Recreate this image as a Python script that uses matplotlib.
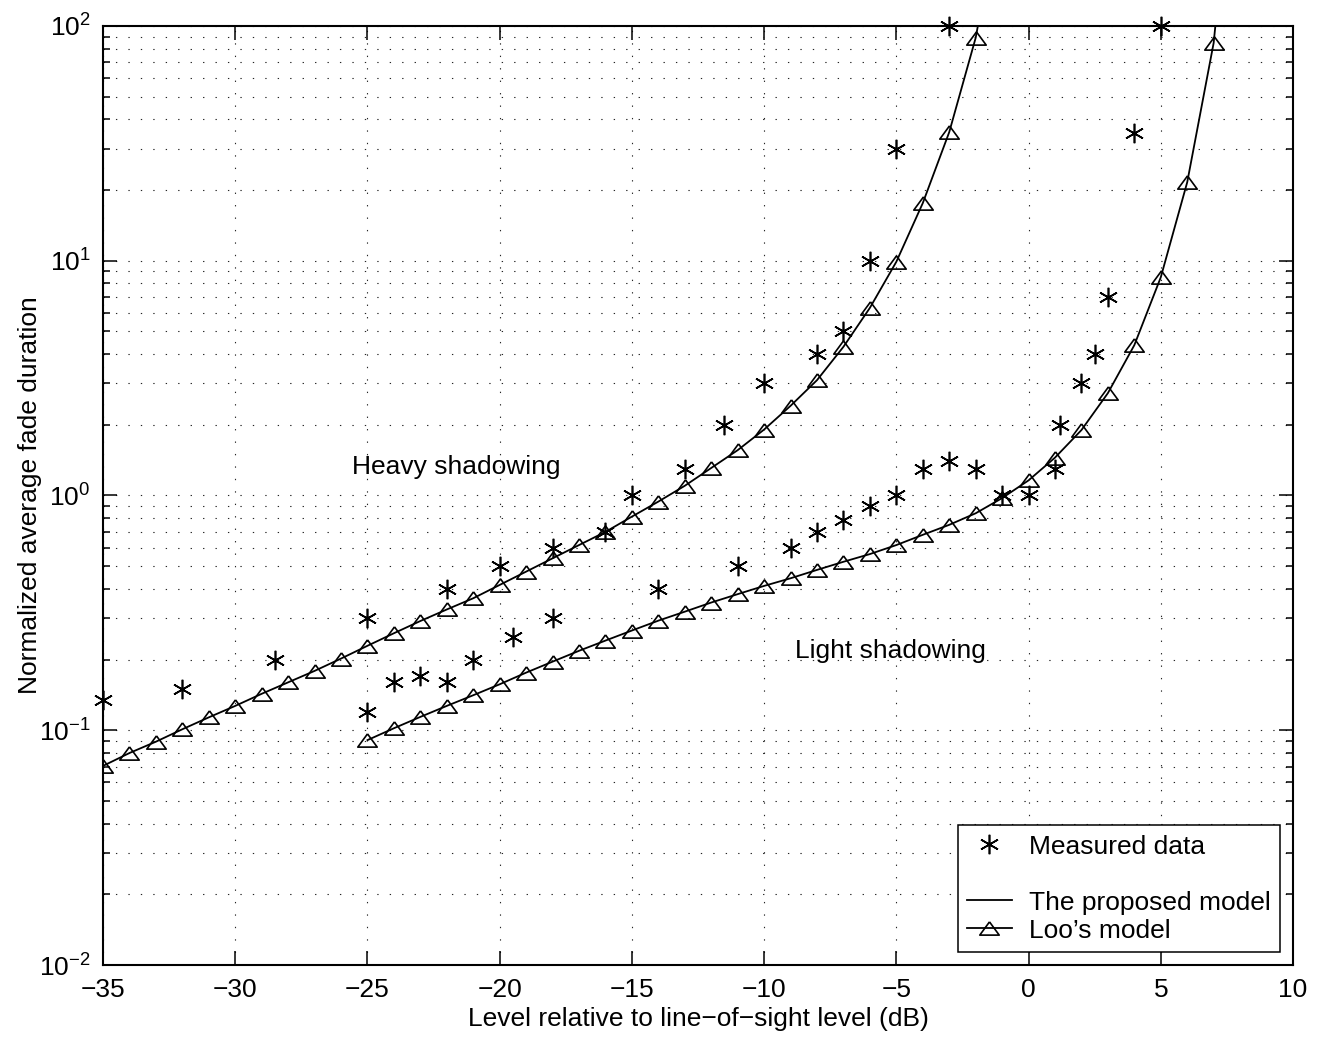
import numpy as np
import matplotlib
matplotlib.use('Agg')
import matplotlib.pyplot as plt
from matplotlib.lines import Line2D

plt.rcParams['font.family'] = ['Liberation Sans', 'DejaVu Sans']
plt.rcParams['font.size'] = 19

# Loo's model (triangles), heavy shadowing
heavy_loo_x = list(range(-35, -1))
heavy_loo_y = [0.0705, 0.080, 0.0894, 0.101, 0.1135, 0.127, 0.143, 0.160, 0.179, 0.202,
               0.229, 0.259, 0.292, 0.327, 0.365, 0.416, 0.474, 0.54, 0.615, 0.70,
               0.813, 0.942, 1.10, 1.31, 1.56, 1.91, 2.41, 3.1, 4.3, 6.3,
               9.9, 17.6, 35.3, 89.0]

# Loo's model (triangles), light shadowing
light_loo_x = list(range(-25, 8))
light_loo_y = [0.0908, 0.102, 0.114, 0.127, 0.141, 0.157, 0.176, 0.196, 0.218, 0.241,
               0.266, 0.293, 0.32, 0.35, 0.38, 0.412, 0.444, 0.482, 0.522, 0.563,
               0.615, 0.68, 0.75, 0.84, 0.975, 1.16, 1.45, 1.9, 2.73, 4.37,
               8.5, 21.6, 84.7]

# proposed model curves (run to the top of the axes)
heavy_prop_x = heavy_loo_x + [-1.85]
heavy_prop_y = heavy_loo_y + [110.0]
light_prop_x = light_loo_x + [7.1]
light_prop_y = light_loo_y + [110.0]

# measured data
heavy_meas_x = [-35, -32, -28.5, -25, -22, -20, -18, -16, -15, -13, -11.5, -10, -8, -7, -6, -5, -3]
heavy_meas_y = [0.135, 0.15, 0.2, 0.3, 0.4, 0.5, 0.6, 0.7, 1.0, 1.3, 2.0, 3.0, 4.0, 5.0, 10, 30, 100]
light_meas_x = [-25, -24, -23, -22, -21, -19.5, -18, -14, -11, -9, -8, -7, -6, -5, -4, -3, -2,
                -1, 0, 1, 1.2, 2, 2.5, 3, 4, 5]
light_meas_y = [0.12, 0.16, 0.17, 0.16, 0.2, 0.25, 0.3, 0.4, 0.5, 0.6, 0.7, 0.79, 0.9, 1.0, 1.3, 1.4, 1.3,
                1.0, 1.0, 1.3, 2.0, 3.0, 4.0, 7.0, 35, 100]

tri = [(0, 0.68), (-1, -0.68), (1, -0.68), (0, 0.68)]
star = (6, 2, 0)

fig = plt.figure(figsize=(13.21, 10.39), dpi=100)
ax = fig.add_axes([0.078, 0.0712, 0.9008, 0.9038])

grid_style = dict(color='0.15', linewidth=0.8, linestyle=(0, (1.2, 10)))

ax.plot(heavy_prop_x, heavy_prop_y, color='k', lw=1.3)
ax.plot(light_prop_x, light_prop_y, color='k', lw=1.3)
ax.plot(heavy_loo_x, heavy_loo_y, linestyle='none', marker=tri, markersize=14,
        markerfacecolor='none', markeredgecolor='k', markeredgewidth=1.2)
ax.plot(light_loo_x, light_loo_y, linestyle='none', marker=tri, markersize=14,
        markerfacecolor='none', markeredgecolor='k', markeredgewidth=1.2)
ax.plot(heavy_meas_x, heavy_meas_y, linestyle='none', marker=star, markersize=14,
        color='k', markeredgewidth=1.2, clip_on=False)
ax.plot(light_meas_x, light_meas_y, linestyle='none', marker=star, markersize=14,
        color='k', markeredgewidth=1.2, clip_on=False)

ax.set_yscale('log')
ax.set_xlim(-35, 10)
ax.set_ylim(1e-2, 1e2)
ax.set_xticks(np.arange(-35, 11, 5))
ax.set_yticks([1e-2, 1e-1, 1e0, 1e1, 1e2])

ax.grid(True, which='major', axis='x', **grid_style)
ax.grid(True, which='both', axis='y', **grid_style)
ax.set_axisbelow(True)

ax.tick_params(which='both', direction='in', top=True, right=True, width=1.1)
ax.tick_params(which='major', length=10, pad=9)
ax.tick_params(which='minor', length=5)
ax.tick_params(axis='x', which='minor', bottom=False, top=False)
for sp in ax.spines.values():
    sp.set_linewidth(1.5)

ax.set_xlabel('Level relative to line\u2212of\u2212sight level (dB)', labelpad=4)
ax.set_ylabel('Normalized average fade duration', labelpad=-2)

ax.text(-25.6, 1.32, 'Heavy shadowing', va='center', ha='left')
ax.text(-8.85, 0.218, 'Light shadowing', va='center', ha='left')

handles = [
    Line2D([], [], linestyle='none', marker=star, markersize=14, color='k', markeredgewidth=1.2),
    Line2D([], [], linestyle='none'),
    Line2D([], [], color='k', lw=1.3),
    Line2D([], [], color='k', lw=1.3, marker=tri, markersize=14,
           markerfacecolor='none', markeredgecolor='k', markeredgewidth=1.2),
]
labels = ['Measured data', ' ', 'The proposed model', 'Loo\u2019s model']
leg = ax.legend(handles, labels, loc='lower right', fancybox=False, framealpha=1,
                edgecolor='k', handlelength=1.7, labelspacing=0.15, borderpad=0.35,
                handletextpad=0.65, borderaxespad=0.5)
leg.get_frame().set_linewidth(1.1)

fig.savefig('out.png', dpi=100)
